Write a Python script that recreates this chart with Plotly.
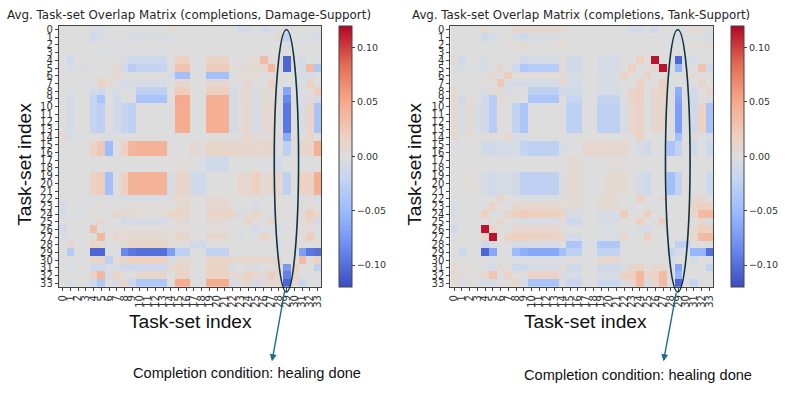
import numpy as np
import plotly.graph_objects as go

W, H = 789, 394

task_sets = list(range(34))
cbar_ticks = [-0.10, -0.05, 0.0, 0.05, 0.10]

# overlap values, in thousandths, one row per task set
damage_support = [
    [0,0,0,0,-3,-2,0,0,2,0,0,0,0,0,6,0,0,0,0,0,0,0,0,-10,-8,0,-10,-6,0,-3,0,0,0,0],
    [0,0,0,0,-15,-8,0,0,-3,-6,-4,-4,-4,-4,-3,0,0,0,0,0,0,0,0,0,0,0,0,0,8,-25,0,-3,-3,-8],
    [0,0,0,0,0,0,0,0,0,0,0,0,0,0,0,0,0,0,0,0,0,0,0,0,0,0,0,0,0,-3,0,0,0,0],
    [0,0,0,0,0,-3,0,-2,-2,-2,-2,-2,-2,-2,0,0,0,0,0,0,0,0,0,0,0,0,0,0,0,0,0,0,0,0],
    [0,-12,0,0,0,0,0,0,-4,-15,-15,-15,-15,-15,0,18,18,0,0,15,15,15,0,0,4,4,35,3,3,-105,0,-8,0,-3],
    [0,-6,0,-4,0,0,0,8,-12,-30,-20,-20,-20,-20,0,28,28,0,0,22,22,22,3,3,6,6,8,40,3,-105,0,-8,35,-35],
    [0,0,0,0,0,0,0,8,0,0,0,0,0,0,-8,-45,-45,0,0,-45,-45,-45,0,4,4,4,0,4,0,0,0,-8,-5,0],
    [0,0,0,-3,0,15,6,0,-8,-5,-5,-5,-5,-5,0,8,8,0,0,8,8,8,0,0,10,0,0,15,0,0,0,-6,15,0],
    [0,-3,0,0,-8,-15,0,-6,0,0,-25,-25,-25,-25,0,20,20,0,0,18,18,18,-8,3,5,-5,4,6,0,-65,0,-4,3,20],
    [0,-8,0,0,-20,-40,0,-12,0,0,-40,-40,-40,-40,0,50,50,0,0,45,45,45,-8,3,6,-6,4,6,0,-85,0,-4,3,-8],
    [0,-8,0,0,-20,-25,0,-10,-20,-25,0,0,0,0,0,48,48,0,0,45,45,45,-8,4,8,-8,5,8,0,-95,0,-6,12,-40],
    [0,-8,0,0,-20,-25,0,-10,-20,-25,0,0,0,0,0,48,48,0,0,45,45,45,-8,4,8,-8,5,8,0,-95,0,-6,12,-40],
    [0,-8,0,0,-20,-25,0,-10,-20,-25,0,0,0,0,0,48,48,0,0,45,45,45,-8,4,8,-8,5,8,0,-95,0,-6,12,-40],
    [0,-8,0,0,-20,-25,0,-10,-20,-25,0,0,0,0,0,48,48,0,0,45,45,45,-8,4,8,-8,5,8,0,-95,0,-6,12,-40],
    [8,-6,-2,0,0,0,-6,0,-3,0,0,0,0,0,0,0,0,0,0,0,0,0,0,3,10,3,3,5,3,-60,3,0,8,0],
    [0,0,0,0,15,25,-50,0,18,40,42,42,42,42,0,0,0,8,3,12,12,12,12,10,14,8,8,12,0,-25,0,10,12,45],
    [0,0,0,0,15,25,-50,0,18,40,42,42,42,42,0,0,0,8,3,12,12,12,12,10,14,8,8,12,0,-25,0,10,12,45],
    [0,0,0,0,0,0,0,0,0,0,0,0,0,0,2,3,3,0,-3,-12,-12,-12,0,0,0,0,0,0,-8,0,0,0,0,0],
    [0,0,0,0,0,0,0,0,0,0,0,0,0,0,2,3,3,0,-3,-12,-12,-12,0,0,0,0,0,0,-8,0,0,0,0,0],
    [0,0,0,0,15,20,-45,0,18,42,42,42,42,42,-5,12,12,-12,-12,0,0,0,0,10,8,18,6,8,10,-25,0,15,15,45],
    [0,0,0,0,15,20,-45,0,18,42,42,42,42,42,-5,12,12,-12,-12,0,0,0,0,10,8,18,6,8,10,-25,0,15,15,45],
    [0,0,0,0,15,20,-45,0,18,42,42,42,42,42,-5,12,12,-12,-12,0,0,0,0,10,8,18,6,8,10,-25,0,15,15,45],
    [0,0,0,-2,-2,-2,-2,-2,-6,-6,-6,-6,-6,-6,3,6,6,0,0,5,5,5,0,0,0,0,0,0,3,0,0,-3,3,-5],
    [-8,0,0,0,0,4,0,0,2,3,3,3,3,3,0,8,8,0,0,8,8,8,0,0,0,-8,0,0,3,0,0,3,3,0],
    [-8,0,-4,0,4,0,0,10,6,6,2,2,2,2,12,12,12,0,0,14,14,14,12,-6,5,12,2,-4,3,0,0,3,20,10],
    [0,0,0,-2,-2,8,0,0,-10,-8,-8,-8,-8,-8,0,5,5,0,0,5,5,5,0,0,12,0,0,12,0,0,0,3,10,-8],
    [-12,0,0,0,35,0,0,0,3,3,3,3,3,3,0,4,4,0,0,3,3,3,0,0,0,-8,0,-3,-5,0,0,3,3,0],
    [-6,0,0,0,0,38,0,12,4,6,6,6,6,6,3,12,12,0,0,8,8,8,2,-6,0,0,12,3,0,0,0,3,20,0],
    [0,8,0,0,15,6,0,0,6,12,12,12,12,12,3,0,0,-12,-12,0,0,0,0,0,0,0,0,0,-6,0,0,0,0,0],
    [0,-32,0,0,-105,-105,0,0,-85,-95,-100,-100,-100,-100,-70,-25,-25,0,0,-22,-22,-22,0,0,0,0,0,0,0,0,0,-70,-95,-100],
    [0,0,0,0,12,12,-25,4,12,18,16,16,16,16,-6,6,6,0,0,12,12,12,8,8,8,8,8,8,8,0,0,35,3,15],
    [0,-5,0,0,-15,-15,-5,-5,-15,-15,-15,-15,-15,-15,8,12,12,0,0,15,15,15,-5,0,-6,-4,0,0,8,-75,15,0,0,-25],
    [0,0,0,0,15,40,-8,14,0,0,12,12,12,12,0,14,14,0,0,15,15,15,8,5,18,10,5,20,5,-90,10,0,0,0],
    [0,-6,0,0,-12,-35,0,-5,14,-15,-35,-35,-35,-35,0,48,48,0,0,48,48,48,-6,3,10,-10,3,8,10,-105,8,-18,0,0],
]

tank_support = [
    [0,0,0,0,8,0,0,0,8,8,8,8,8,8,8,0,0,0,0,0,0,0,0,-8,-8,0,-12,0,0,-3,0,8,5,0],
    [0,0,0,0,-15,-8,0,0,-5,-15,-4,-4,-4,-4,0,0,0,0,0,0,0,0,0,0,0,0,0,0,0,-5,0,0,-3,-8],
    [0,0,0,0,0,0,0,3,4,6,0,0,0,3,6,0,0,0,0,0,0,0,0,0,0,0,0,0,0,0,0,5,0,5],
    [0,0,0,0,0,0,0,0,0,0,0,0,0,0,0,0,0,0,0,0,0,0,0,0,0,0,0,0,0,0,0,0,0,0],
    [6,-12,0,0,-5,0,0,0,0,-10,-8,-8,-8,-8,5,-10,-10,0,0,-8,-8,-8,0,0,18,0,115,0,0,-105,0,-6,0,0],
    [0,-6,0,-3,-6,0,12,0,-15,-35,-30,-30,-30,-30,4,-10,-10,0,0,-8,-8,-8,0,18,0,0,8,115,0,-55,0,0,28,-12],
    [0,0,0,0,0,8,0,22,4,4,4,4,4,4,4,-6,-6,0,0,-6,-6,-6,15,0,0,15,0,0,0,0,3,5,0,0],
    [0,0,0,-2,0,0,25,-4,-8,-8,-8,-8,-8,-8,8,-8,-8,0,0,-6,-6,-6,0,0,15,0,0,18,0,0,0,0,12,0],
    [6,0,0,0,-6,5,5,-5,0,0,-25,-25,-25,-25,-10,-12,-12,0,0,-5,-5,-5,0,12,18,0,8,15,0,-60,0,-10,0,12],
    [6,-10,5,0,-12,-30,5,0,0,0,-38,-38,-38,-38,0,-18,-18,0,0,-20,-20,-20,0,12,18,0,8,14,0,-65,0,-12,0,-6],
    [6,-6,5,-4,-10,-30,3,0,-22,-38,0,0,0,0,0,-25,-25,0,0,-25,-25,-25,-5,10,16,0,8,12,0,-70,0,-12,16,-40],
    [6,-6,5,-4,-10,-30,3,0,-22,-38,0,0,0,0,0,-25,-25,0,0,-25,-25,-25,-5,10,16,0,8,12,0,-70,0,-12,16,-40],
    [6,-6,5,-4,-10,-30,3,0,-22,-38,0,0,0,0,0,-25,-25,0,0,-25,-25,-25,-5,10,16,0,8,12,0,-70,0,-12,16,-40],
    [6,-6,5,-4,-10,-30,3,0,-22,-38,0,0,0,0,0,-25,-25,0,0,-25,-25,-25,-5,10,16,0,8,12,0,-70,0,-12,16,-40],
    [8,0,6,0,3,3,0,10,-5,-5,0,0,0,0,0,0,0,0,0,0,0,0,0,0,15,0,0,0,0,-45,0,5,-3,-5],
    [0,-3,0,0,-10,-10,-8,-8,-6,-20,-25,-25,-25,-25,-5,0,0,8,8,8,8,8,8,0,-5,-12,0,0,-40,-22,0,-12,0,-15],
    [0,-3,0,0,-10,-10,-8,-8,-6,-20,-25,-25,-25,-25,-5,0,0,8,8,8,8,8,8,0,-5,-12,0,0,-40,-22,0,-12,0,-15],
    [0,0,0,0,0,0,0,0,0,0,0,0,0,0,0,5,5,0,0,0,3,3,3,0,0,0,0,0,0,0,0,0,0,0],
    [0,0,0,0,0,0,0,0,0,0,0,0,0,0,0,5,5,0,0,0,3,3,3,0,0,0,0,0,0,0,0,0,0,0],
    [0,0,4,0,-8,-12,-5,-5,-10,-25,-25,-25,-25,-25,-4,7,7,0,0,0,7,7,7,0,-8,-12,0,0,-45,-22,3,0,0,-15],
    [0,0,4,0,-8,-12,-5,-5,-10,-25,-25,-25,-25,-25,-4,7,7,0,0,0,7,7,7,0,-8,-12,0,0,-45,-22,3,0,0,-15],
    [0,0,4,0,-8,-12,-5,-5,-10,-25,-25,-25,-25,-25,-4,7,7,0,0,0,7,7,7,0,-8,-12,0,0,-45,-22,3,0,0,-15],
    [0,0,0,0,0,0,12,0,0,-3,-3,-3,-3,-3,3,5,5,0,0,6,6,6,0,0,18,0,0,8,-3,0,0,5,10,0],
    [-6,0,0,0,0,15,0,0,10,8,8,8,8,8,3,5,5,0,0,6,6,6,0,0,0,0,0,0,0,0,0,12,18,15],
    [-6,0,0,0,18,0,0,12,18,22,18,18,18,18,14,-6,-6,0,0,-6,-6,-6,20,0,0,18,0,0,0,0,0,10,35,38],
    [0,0,0,0,0,0,12,0,-4,-6,-6,-6,-6,-6,3,-15,-15,0,0,-6,-6,-6,0,0,18,0,0,20,0,0,0,0,10,-6],
    [-10,0,0,0,115,14,0,0,8,10,10,10,10,10,3,0,0,0,0,-3,-3,-3,0,0,-4,-8,0,0,0,0,0,8,18,18],
    [-3,0,0,0,14,115,0,15,18,18,15,15,15,15,10,-8,-8,0,0,-3,-3,-3,10,0,0,20,0,0,0,0,0,8,35,38],
    [0,0,0,0,-15,-5,0,0,-8,-8,-8,-8,-8,-8,0,-38,-38,-3,-3,-35,-35,-35,0,0,0,0,0,0,0,-25,-25,0,0,0],
    [0,-15,0,0,-105,-65,0,0,-50,-60,-65,-65,-65,-65,-45,-25,-25,0,0,-22,-22,-22,0,0,0,0,0,0,-20,-8,0,-55,-55,-100],
    [0,0,0,0,0,-3,0,0,-3,-3,-3,-3,-3,-3,-3,3,3,0,0,8,8,8,0,0,0,0,0,0,-5,0,0,-8,0,0],
    [6,0,4,0,-3,-8,5,0,-15,-15,-6,-6,-6,-6,5,-12,-12,0,0,-12,-12,-12,-5,12,15,0,8,8,0,-65,0,0,0,-22],
    [6,5,0,0,8,28,0,14,3,0,16,16,16,16,-4,-5,-5,0,0,-5,-5,-5,15,18,38,12,15,35,0,-55,0,0,0,0],
    [6,-5,4,0,-6,-4,0,0,10,-8,-40,-40,-40,-40,0,-18,-18,0,0,-15,-15,-15,-3,8,38,-6,8,35,0,-105,0,-20,0,0],
]

coolwarm = [
    [0.0, "#3b4cc0"], [0.143, "#6788ee"], [0.286, "#9abbff"], [0.429, "#c9d7f0"],
    [0.5, "#dddddd"], [0.571, "#edd1c2"], [0.714, "#f7a889"], [0.857, "#e26952"],
    [1.0, "#b40426"],
]

axis_color = "#444444"
text_color = "#333333"
top, bottom = 24, 288


def px_x(x):
    return x / W


def px_y(y):
    return 1 - y / H


def add_panel(fig, n, matrix, left, right, cbar_left):
    xname = "x" if n == 1 else f"x{n}"
    yname = "y" if n == 1 else f"y{n}"
    fig.add_trace(go.Heatmap(
        z=np.array(matrix) / 1000, x=task_sets, y=task_sets,
        xaxis=xname, yaxis=yname,
        colorscale=coolwarm, zmin=-0.12, zmax=0.12,
        colorbar=dict(
            x=px_x(cbar_left), xanchor="left", thickness=13.4, thicknessmode="pixels",
            y=px_y(top), yanchor="top", len=(bottom - top) / H, lenmode="fraction",
            xpad=0, ypad=0, outlinewidth=1, outlinecolor=axis_color,
            tickvals=cbar_ticks, tickformat=".2f", ticks="outside", ticklen=3,
            tickcolor=axis_color, tickfont=dict(family="DejaVu Sans", size=9.5, color=text_color),
        ),
    ))
    common = dict(
        tickmode="array", tickvals=task_sets, ticktext=[str(i) for i in task_sets],
        ticks="outside", ticklen=3, tickcolor=axis_color, tickwidth=1,
        tickfont=dict(family="DejaVu Sans", size=10, color=text_color),
        showgrid=False, zeroline=False, showline=True, linecolor=axis_color,
        linewidth=1, mirror=True,
    )
    fig.update_layout({
        ("xaxis" if n == 1 else f"xaxis{n}"): dict(
            domain=[px_x(left), px_x(right)], anchor=yname, tickangle=-90,
            range=[-0.5, 33.5], **common),
        ("yaxis" if n == 1 else f"yaxis{n}"): dict(
            domain=[px_y(bottom), px_y(top)], anchor=xname,
            range=[33.5, -0.5], **common),
    })


def add_text(fig, text, x, y, size, family="Liberation Sans", angle=0, color="#111111"):
    fig.add_annotation(
        text=text, x=px_x(x), y=px_y(y), xref="paper", yref="paper",
        showarrow=False, textangle=angle, xanchor="center", yanchor="middle",
        font=dict(family=family, size=size, color=color),
    )


def add_callout(fig, x0, x1, tail_x, tail_y, tip_x, tip_y):
    fig.add_shape(
        type="circle", xref="paper", yref="paper",
        x0=px_x(x0), x1=px_x(x1), y0=px_y(293), y1=px_y(28),
        line=dict(color="#0f3342", width=1.6),
    )
    fig.add_annotation(
        x=px_x(tip_x), y=px_y(tip_y), xref="paper", yref="paper",
        ax=tail_x - tip_x, ay=tail_y - tip_y, axref="pixel", ayref="pixel",
        text="", showarrow=True, arrowhead=2, arrowsize=1, arrowwidth=1.4,
        arrowcolor="#1d6c8c",
    )


fig = go.Figure()
add_panel(fig, 1, damage_support, 57, 320.7, 338.3)
add_panel(fig, 2, tank_support, 450, 714, 731.3)

add_text(fig, "Avg. Task-set Overlap Matrix (completions, Damage-Support)", 188, 13, 11.9,
         family="DejaVu Sans", color="#262626")
add_text(fig, "Avg. Task-set Overlap Matrix (completions, Tank-Support)", 581.5, 13, 11.8,
         family="DejaVu Sans", color="#262626")
add_text(fig, "Task-set index", 189, 323, 19.2)
add_text(fig, "Task-set index", 586, 323, 19.2)
add_text(fig, "Task-set index", 22.5, 164, 19.2, angle=-90)
add_text(fig, "Task-set index", 414, 164, 19.2, angle=-90)
add_text(fig, "Completion condition: healing done", 246, 375, 14.6)
add_text(fig, "Completion condition: healing done", 638, 377, 14.6)

add_callout(fig, 273.3, 297.7, 284, 291, 271, 363)
add_callout(fig, 666, 690.7, 677, 293, 664, 363)

fig.update_layout(
    width=W, height=H, margin=dict(l=0, r=0, t=0, b=0),
    paper_bgcolor="white", plot_bgcolor="white", showlegend=False,
)
fig.write_html("out.html", config={"displayModeBar": False},
               post_script="document.body.style.margin = '0';")
